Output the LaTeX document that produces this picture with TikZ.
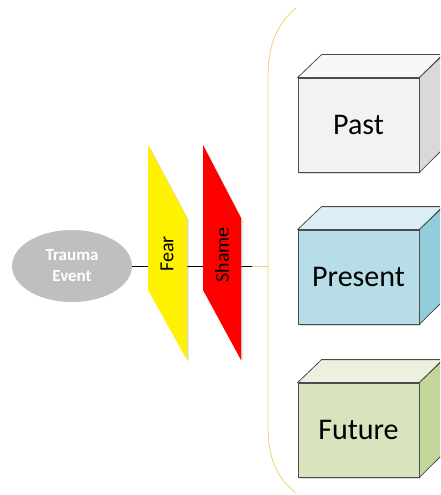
\documentclass[tikz,border=0pt]{standalone}
\usepackage{fontspec}
\setmainfont{Carlito}
\usetikzlibrary{shapes.geometric,shadows}

\definecolor{bracegold}{HTML}{F2CF72}
\definecolor{pastfront}{HTML}{F2F2F2}
\definecolor{pasttop}{HTML}{F8F8F8}
\definecolor{pastside}{HTML}{D9D9D9}
\definecolor{presfront}{HTML}{B7DDE8}
\definecolor{prestop}{HTML}{DAEEF3}
\definecolor{presside}{HTML}{92CDDC}
\definecolor{futfront}{HTML}{D7E4BD}
\definecolor{futtop}{HTML}{EBF1DE}
\definecolor{futside}{HTML}{C3D69B}

\tikzset{
  timebox/.style={draw=black!70, line width=0.8pt, minimum width=121pt, minimum height=94pt,
    inner sep=0pt, font=\fontsize{30}{36}\selectfont},
  face/.style={draw=black!70, line width=0.8pt, line join=round},
  feeling/.style={rotate=90, inner sep=0pt, font=\fontsize{20}{24}\selectfont},
  softshadow/.style={drop shadow={shadow xshift=1.5pt, shadow yshift=-1.5pt, opacity=0.3}},
}

\begin{document}
\begin{tikzpicture}[x=1pt,y=-1pt]
\useasboundingbox (0,0) rectangle (440,495);
\clip (0,0) rectangle (440,495);
% Bracket round the three boxes
\draw[bracegold, line width=0.8pt] (296,8) .. controls (276,25) and (268,45) .. (268,78)
  -- (268,425) .. controls (268,458) and (276,477) .. (296,493);
\coordinate (tick) at (252,266);
\draw[bracegold, line width=0.8pt] (tick) -- (268,266);
% Trauma event and the line behind the feelings
\node[ellipse, fill=gray!50, minimum width=120pt, minimum height=72pt, align=center,
  text=white, font=\fontsize{17}{21}\selectfont\bfseries] (trauma) at (72,266) {Trauma\\Event};
\draw[line width=0.7pt] (trauma.east) -- (tick);
% Feelings
\fill[yellow, softshadow] (148,145) -- (187,218) -- (187,360) -- (148,290) -- cycle;
\node[feeling] (fear) at (167,254) {Fear};
\fill[red, softshadow] (203,145) -- (241,218) -- (241,360) -- (203,290) -- cycle;
\node[feeling] (shame) at (222,255) {Shame};
% Past, present, future
\foreach \name/\ymid/\front/\topc/\side/\txt in
  {past/125/pastfront/pasttop/pastside/Past,
   present/277/presfront/prestop/presside/Present,
   future/430/futfront/futtop/futside/Future}{
  \node[timebox, fill=\front, softshadow] (\name) at (358.5,\ymid) {\txt};
  \filldraw[face, fill=\topc] (\name.north west) -- ++(24,-23) -- ++(121,0) -- (\name.north east) -- cycle;
  \filldraw[face, fill=\side] (\name.north east) -- ++(24,-23) -- ++(0,94) -- (\name.south east) -- cycle;
}
\end{tikzpicture}
\end{document}
